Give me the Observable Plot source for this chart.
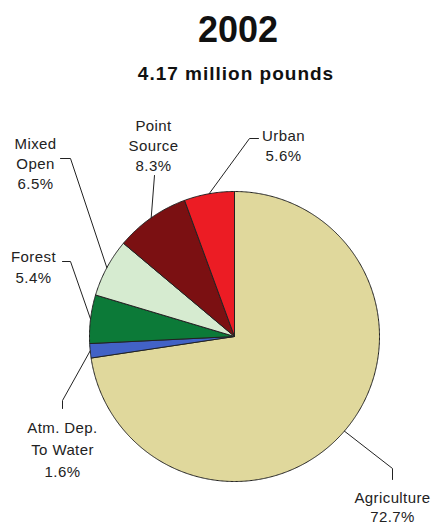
<!DOCTYPE html>
<html><head><meta charset="utf-8">
<script src="https://cdn.jsdelivr.net/npm/d3@7"></script>
<script src="https://cdn.jsdelivr.net/npm/@observablehq/plot@0.6"></script>
<style>
body{margin:0;background:#fff;font-family:"Liberation Sans",Arial,sans-serif;}
#wrap{position:relative;width:432px;height:524px;overflow:hidden;background:#fff}
.t{position:absolute;white-space:nowrap;transform:translateX(-50%);font-weight:bold;color:#111}
</style></head><body>
<div id="wrap">
<div class="t" style="left:238px;top:11.5px;font-size:36px;line-height:36px">2002</div>
<div class="t" style="left:236px;top:64px;font-size:19px;line-height:19px;letter-spacing:1px">4.17 million pounds</div>
<div id="chart" style="position:absolute;left:0;top:100px"></div>
</div>
<script>
// Data (clockwise from 12 o'clock)
const categories = ["Agriculture", "Atm. Dep. To Water", "Forest", "Mixed Open", "Point Source", "Urban"];
const shares = [72.7, 1.6, 5.4, 6.5, 8.3, 5.6];
const labelLines = [["Agriculture"], ["Atm. Dep.", "To Water"], ["Forest"], ["Mixed", "Open"], ["Point", "Source"], ["Urban"]];

// Styles
const colors = ["#e0d89c", "#4262c6", "#0c7a38", "#d6ebd0", "#7b1012", "#ec1c24"];

// Layout (page pixel coordinates)
const pieCenter = [234, 336], pieRadius = 145;
const labelLayout = [
  {x: 392, base: 500, lh: 19, path: [[392, 468], [392, 479]]},
  {x: 62, base: 428, lh: 22, path: [[62, 400], [62, 408]]},
  {x: 33, base: 257, lh: 21, path: [[70, 261], [62, 261]]},
  {x: 35, base: 145, lh: 20, path: [[70, 158], [60, 158]]},
  {x: 153, base: 127, lh: 20, path: [[154, 175]]},
  {x: 283, base: 137, lh: 20, path: [[249, 138], [258, 138]]}
];
const fontSize = 15;

const [cx, cy] = pieCenter, r = pieRadius;
const arcs = d3.pie().sort(null).value(d => d)(shares);
const slicePts = [];
const leaderPts = [];
const labels = [];
arcs.forEach((a, i) => {
  const cat = categories[i];
  const n = Math.max(2, Math.ceil((a.endAngle - a.startAngle) / (Math.PI / 360)));
  slicePts.push({cat, x: cx, y: cy});
  for (let k = 0; k <= n; k++) {
    const t = a.startAngle + (a.endAngle - a.startAngle) * k / n;
    slicePts.push({cat, x: cx + r * Math.sin(t), y: cy - r * Math.cos(t)});
  }
  slicePts.push({cat, x: cx, y: cy});
  const mid = (a.startAngle + a.endAngle) / 2;
  const L = labelLayout[i];
  leaderPts.push({cat, x: cx + r * Math.sin(mid), y: cy - r * Math.cos(mid)});
  L.path.forEach(p => leaderPts.push({cat, x: p[0], y: p[1]}));
  labels.push({cat, x: L.x, y: L.base - 0.71 * fontSize, lh: L.lh,
    text: labelLines[i].join("\n") + "\n" + shares[i].toFixed(1) + "%"});
});

const chart = Plot.plot({
  width: 432, height: 424, margin: 0,
  style: {background: "transparent", fontFamily: "'Liberation Sans', Arial, sans-serif", letterSpacing: "0.4px"},
  x: {domain: [0, 432], axis: null},
  y: {domain: [524, 100], axis: null},
  color: {domain: categories, range: colors},
  marks: [
    Plot.line(slicePts, {x: "x", y: "y", z: "cat", fill: "cat", stroke: "#222", strokeWidth: 1, strokeLinejoin: "round"}),
    Plot.line(leaderPts, {x: "x", y: "y", z: "cat", stroke: "#222", strokeWidth: 1}),
    ...labels.map(l => Plot.text([l], {x: "x", y: "y", text: "text", textAnchor: "middle", lineAnchor: "top",
      lineHeight: l.lh / fontSize, fontSize, fill: "#222"}))
  ]
});
document.getElementById("chart").appendChild(chart);
</script>
</body></html>
